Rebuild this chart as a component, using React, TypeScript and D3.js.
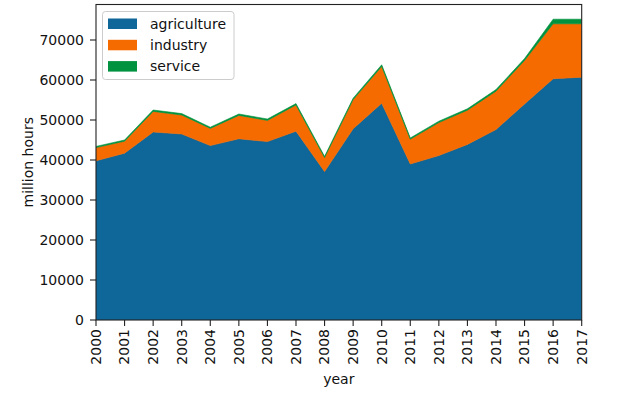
import React from "react";
import * as d3 from "d3";

const years = [2000, 2001, 2002, 2003, 2004, 2005, 2006, 2007, 2008, 2009, 2010, 2011, 2012, 2013, 2014, 2015, 2016, 2017];
const agriculture = [39800, 41700, 47000, 46500, 43600, 45300, 44600, 47200, 37100, 47800, 54200, 39000, 41100, 43900, 47600, 54000, 60300, 60700];
const industry = [3300, 3000, 5150, 4750, 4300, 5850, 5300, 6550, 3500, 7300, 9200, 6200, 8250, 8550, 9600, 10900, 13750, 13350];
const service = [300, 300, 350, 350, 300, 350, 350, 350, 300, 350, 400, 300, 350, 350, 400, 450, 1150, 1150];
const seriesNames = ["agriculture", "industry", "service"];
const colors = ["#0f6699", "#f56b00", "#00923f"];
const yTicks = [0, 10000, 20000, 30000, 40000, 50000, 60000, 70000];

const W = 620, H = 394;
const left = 96, right = 581.7, top = 4.5, bottom = 320;
const font = "DejaVu Sans, sans-serif";
const fs = 14;

export default function App() {
  const x = d3.scaleLinear().domain([years[0], years[years.length - 1]]).range([left, right]);
  const y = d3.scaleLinear().domain([0, 78875]).range([bottom, top]);
  const rows = years.map((yr, i) => ({ year: yr, agriculture: agriculture[i], industry: industry[i], service: service[i] }));
  const stack = d3.stack<any>().keys(seriesNames);
  const layers = stack(rows);
  const area = d3.area<any>()
    .x((d) => x(d.data.year))
    .y0((d) => y(d[0]))
    .y1((d) => y(d[1]));

  return (
    <svg width={W} height={H} style={{ position: "absolute", left: 0, top: 0, background: "#fff" }} fontFamily={font}>
      <defs>
        <clipPath id="plot">
          <rect x={left} y={top} width={right - left} height={bottom - top} />
        </clipPath>
      </defs>
      <g clipPath="url(#plot)">
        {layers.map((l, i) => (
          <path key={i} d={area(l) || ""} fill={colors[i]} stroke={colors[i]} strokeWidth={0.6} />
        ))}
      </g>
      <rect x={left} y={top} width={right - left} height={bottom - top} fill="none" stroke="#222" strokeWidth={1.1} />
      {yTicks.map((t) => (
        <g key={t}>
          <line x1={left - 6} x2={left} y1={y(t)} y2={y(t)} stroke="#222" strokeWidth={1.1} />
          <text x={left - 12} y={y(t)} dy="0.35em" textAnchor="end" fontSize={fs} fill="#111">{t}</text>
        </g>
      ))}
      {years.map((yr) => (
        <g key={yr}>
          <line x1={x(yr)} x2={x(yr)} y1={bottom} y2={bottom + 6} stroke="#222" strokeWidth={1.1} />
          <text transform={`translate(${x(yr)},${bottom + 9}) rotate(-90)`} dy="0.35em" textAnchor="end" fontSize={fs} fill="#111">{yr}</text>
        </g>
      ))}
      <text x={(left + right) / 2} y={384} textAnchor="middle" fontSize={fs} fill="#111">year</text>
      <text transform={`translate(28,${(top + bottom) / 2}) rotate(-90)`} dy="0.35em" textAnchor="middle" fontSize={fs} fill="#111">million hours</text>
      <g>
        <rect x={102.5} y={11.5} width={131.5} height={68} rx={3} fill="#fff" fillOpacity={0.8} stroke="#ccc" strokeWidth={1} />
        {seriesNames.map((n, i) => (
          <g key={n}>
            <rect x={108} y={18.5 + i * 21.3} width={29} height={10.5} fill={colors[i]} />
            <text x={150} y={23.8 + i * 21.3} dy="0.35em" fontSize={fs} fill="#111">{n}</text>
          </g>
        ))}
      </g>
    </svg>
  );
}
